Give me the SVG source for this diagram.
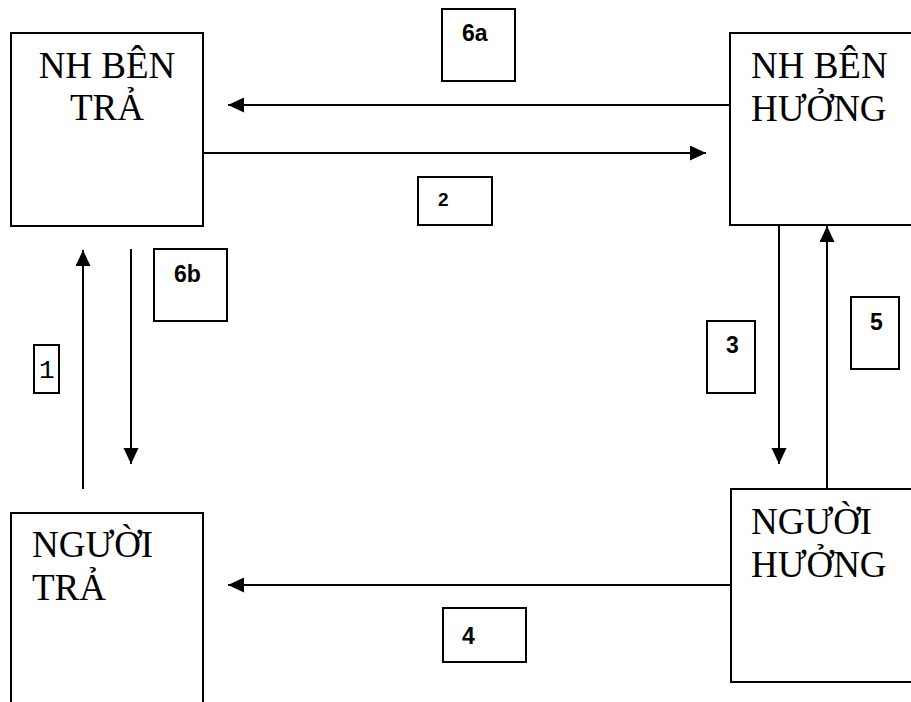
<svg xmlns="http://www.w3.org/2000/svg" width="911" height="702" viewBox="0 0 911 702">
<style>
.box{fill:#fff;stroke:#000;stroke-width:2}
.nt{font-family:"Liberation Serif","DejaVu Serif",serif;font-size:37px;fill:#000}
.lb{fill:#fff;stroke:#000;stroke-width:2}
.lt{font-family:"Liberation Sans",Arial,sans-serif;font-weight:bold;font-size:23px;fill:#000}
.lm{font-family:"Liberation Mono","DejaVu Sans Mono",monospace;font-size:26px;fill:#000}
.cn{stroke:#000;stroke-width:2;fill:none;marker-end:url(#ah)}
</style>
<defs>
<marker id="ah" markerUnits="userSpaceOnUse" markerWidth="16" markerHeight="16" refX="16" refY="7.5" orient="auto">
<path d="M0,0 L16,7.5 L0,15 z" fill="#000"/>
</marker>
</defs>
<rect width="911" height="702" fill="#fff"/>
<g id="connectors">
<line class="cn" x1="730" y1="105" x2="228" y2="105"/>
<line class="cn" x1="203" y1="153" x2="706" y2="153"/>
<line class="cn" x1="83" y1="489" x2="83" y2="250"/>
<line class="cn" x1="131" y1="249" x2="131" y2="464"/>
<line class="cn" x1="779" y1="226" x2="779" y2="464"/>
<line class="cn" x1="827" y1="489" x2="827" y2="226"/>
<line class="cn" x1="731" y1="585" x2="228" y2="585"/>
</g>
<g id="nh-ben-tra">
<rect class="box" x="11" y="33" width="192" height="193"/>
<text class="nt" x="107" y="78" text-anchor="middle">NH BÊN</text>
<text class="nt" x="107" y="120" text-anchor="middle">TRẢ</text>
</g>
<g id="nh-ben-huong">
<rect class="box" x="730" y="33" width="200" height="192"/>
<text class="nt" x="751" y="78">NH BÊN</text>
<text class="nt" x="751" y="121">HƯỞNG</text>
</g>
<g id="nguoi-tra">
<rect class="box" x="11" y="513" width="192" height="220"/>
<text class="nt" x="32" y="557">NGƯỜI</text>
<text class="nt" x="32" y="600">TRẢ</text>
</g>
<g id="nguoi-huong">
<rect class="box" x="731" y="489" width="200" height="193"/>
<text class="nt" x="751" y="534">NGƯỜI</text>
<text class="nt" x="751" y="577">HƯỞNG</text>
</g>
<g id="label-6a">
<rect class="lb" x="442" y="9" width="73" height="72"/>
<text class="lt" x="462" y="41">6a</text>
</g>
<g id="label-2">
<rect class="lb" x="418" y="177" width="74" height="48"/>
<text class="lt" x="438" y="206" style="font-size:19px">2</text>
</g>
<g id="label-6b">
<rect class="lb" x="154" y="249" width="73" height="72"/>
<text class="lt" x="174" y="282">6b</text>
</g>
<g id="label-1">
<rect class="lb" x="34" y="345" width="25" height="48"/>
<text class="lm" x="39" y="378">1</text>
</g>
<g id="label-3">
<rect class="lb" x="707" y="321" width="48" height="72"/>
<text class="lt" x="726" y="353">3</text>
</g>
<g id="label-5">
<rect class="lb" x="851" y="297" width="48" height="72"/>
<text class="lt" x="870" y="330">5</text>
</g>
<g id="label-4">
<rect class="lb" x="443" y="608" width="83" height="54"/>
<text class="lt" x="462" y="644">4</text>
</g>
</svg>
